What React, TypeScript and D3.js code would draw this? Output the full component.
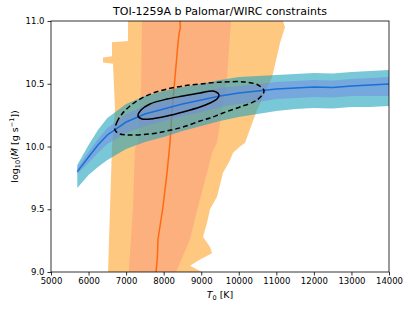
import React, { useEffect, useRef } from "react";
import * as d3 from "d3";

// blue model band, sampled on a T0 grid [K] -> log10 Mdot
const bandT = [5700, 6000, 6250, 6500, 7000, 7500, 8000, 8500, 9000, 9500, 10000, 10500, 11000, 11500, 12000, 12500, 13000, 13500, 14000];
const bandMed = [9.8, 9.916, 10.012, 10.092, 10.195, 10.259, 10.299, 10.339, 10.371, 10.402, 10.426, 10.442, 10.458, 10.466, 10.474, 10.47, 10.482, 10.49, 10.498];
const bandInnerHi = [9.829, 9.956, 10.06, 10.148, 10.259, 10.323, 10.363, 10.403, 10.435, 10.466, 10.482, 10.498, 10.514, 10.522, 10.53, 10.526, 10.538, 10.546, 10.554];
const bandInnerLo = [9.781, 9.868, 9.948, 10.02, 10.107, 10.163, 10.203, 10.243, 10.275, 10.314, 10.338, 10.354, 10.378, 10.386, 10.394, 10.39, 10.402, 10.402, 10.402];
const bandOuterHi = [9.853, 10.012, 10.132, 10.227, 10.338, 10.402, 10.442, 10.474, 10.499, 10.53, 10.554, 10.562, 10.57, 10.578, 10.586, 10.582, 10.594, 10.602, 10.61];
const bandOuterLo = [9.67, 9.773, 9.837, 9.893, 9.98, 10.036, 10.076, 10.124, 10.164, 10.203, 10.235, 10.259, 10.283, 10.299, 10.307, 10.303, 10.315, 10.315, 10.323];

// orange constraint, edges given as (log10 Mdot, T0)
const outerLeftL = [11.0, 10.84, 10.83, 10.72, 10.71, 10.67, 10.66, 10.3, 10.0, 9.5, 9.0];
const outerLeftT = [7051, 7051, 6624, 6624, 6385, 6385, 6651, 6704, 6624, 6571, 6518];
const outerRightL = [11.0, 10.95, 10.825, 10.55, 10.29, 10.03, 10.0, 9.95, 9.89, 9.79, 9.6, 9.5, 9.39, 9.28, 9.2, 9.15, 9.1, 9.05, 9.0];
const outerRightT = [11178, 11230, 11098, 10885, 10486, 10166, 10033, 9847, 9767, 9580, 9420, 9234, 9154, 9048, 9234, 9287, 8968, 8702, 9021];
const innerLeftL = [11.0, 10.5, 10.03, 9.99, 9.5, 9.0];
const innerLeftT = [7423, 7400, 7317, 7237, 7180, 7070];
const innerRightL = [11.0, 10.55, 10.03, 9.95, 9.79, 9.52, 9.26, 9.0];
const innerRightT = [9793, 9687, 9420, 9287, 9154, 8915, 8702, 8329];
const medL = [11.0, 10.95, 10.9, 10.825, 10.55, 10.29, 10.03, 9.79, 9.52, 9.26, 9.1, 9.0];
const medT = [8435, 8445, 8410, 8382, 8302, 8222, 8169, 8089, 7982, 7849, 7830, 7796];

// joint contours (T0, log10 Mdot)
const contourOuter = [
  [6704, 10.131], [6758, 10.195], [6891, 10.259], [7104, 10.323], [7370, 10.378], [7716, 10.426],
  [8089, 10.458], [8515, 10.482], [8968, 10.498], [9578, 10.514], [10166, 10.514], [10512, 10.49],
  [10672, 10.442], [10486, 10.371], [10033, 10.315], [9578, 10.267], [9234, 10.227], [8968, 10.203],
  [8515, 10.155], [8089, 10.124], [7636, 10.1], [7104, 10.092], [6837, 10.1],
];
const contourInner = [
  [7317, 10.243], [7397, 10.291], [7636, 10.339], [8089, 10.378], [8515, 10.402], [8968, 10.426],
  [9314, 10.442], [9474, 10.41], [9420, 10.378], [9234, 10.347], [8968, 10.315], [8515, 10.275],
  [8089, 10.243], [7636, 10.219], [7423, 10.219],
];

const xTicks = [5000, 6000, 7000, 8000, 9000, 10000, 11000, 12000, 13000, 14000];
const yTicks = [9.0, 9.5, 10.0, 10.5, 11.0];

const FONT = "DejaVu Sans";

const App = () => {
  const ref = useRef<SVGSVGElement>(null);

  useEffect(() => {
    const svg = d3.select(ref.current);
    svg.selectAll("*").remove();

    const x = d3.scaleLinear().domain([5000, 14000]).range([51, 389]);
    const y = d3.scaleLinear().domain([9, 11]).range([272, 21]);

    svg.append("clipPath").attr("id", "plotArea")
      .append("rect").attr("x", 51).attr("y", 21).attr("width", 338).attr("height", 251);
    const g = svg.append("g").attr("clip-path", "url(#plotArea)");

    const poly = (lL, lT, rL, rT) => {
      const pts = lL.map((l, i) => [x(lT[i]), y(l)])
        .concat(rL.map((l, i) => [x(rT[i]), y(l)]).reverse());
      return d3.line()(pts) + "Z";
    };

    g.append("path").attr("d", poly(outerLeftL, outerLeftT, outerRightL, outerRightT)).attr("fill", "#ffc880");
    g.append("path").attr("d", poly(innerLeftL, innerLeftT, innerRightL, innerRightT)).attr("fill", "#fcb07d");
    g.append("path")
      .attr("d", d3.line()(medL.map((l, i) => [x(medT[i]), y(l)])))
      .attr("fill", "none").attr("stroke", "#ff6a10").attr("stroke-width", 1.5);

    const idx = d3.range(bandT.length);
    const area = (lo, hi) => d3.area().x((i) => x(bandT[i])).y0((i) => y(lo[i])).y1((i) => y(hi[i]))(idx);
    g.append("path").attr("d", area(bandOuterLo, bandOuterHi)).attr("fill", "#1fa3bc").attr("fill-opacity", 0.6);
    g.append("path").attr("d", area(bandInnerLo, bandInnerHi)).attr("fill", "#7388e5").attr("fill-opacity", 0.5);
    g.append("path")
      .attr("d", d3.line().x((i) => x(bandT[i])).y((i) => y(bandMed[i]))(idx))
      .attr("fill", "none").attr("stroke", "#1a6fd8").attr("stroke-width", 1.5);

    const closed = d3.line().x((d) => x(d[0])).y((d) => y(d[1])).curve(d3.curveCatmullRomClosed.alpha(0.5));
    g.append("path").attr("d", closed(contourOuter)).attr("fill", "none")
      .attr("stroke", "black").attr("stroke-width", 1.5).attr("stroke-dasharray", "5,3");
    g.append("path").attr("d", closed(contourInner)).attr("fill", "none")
      .attr("stroke", "black").attr("stroke-width", 1.5);

    // frame
    svg.append("rect").attr("x", 51).attr("y", 21).attr("width", 338).attr("height", 251)
      .attr("fill", "none").attr("stroke", "black").attr("stroke-width", 0.8);

    const xa = svg.append("g").attr("transform", "translate(0,272)")
      .call(d3.axisBottom(x).tickValues(xTicks).tickSize(3.5).tickPadding(2).tickFormat(d3.format("d")));
    const ya = svg.append("g").attr("transform", "translate(51,0)")
      .call(d3.axisLeft(y).tickValues(yTicks).tickSize(3.5).tickPadding(3).tickFormat(d3.format(".1f")));
    [xa, ya].forEach((a) => {
      a.select(".domain").remove();
      a.selectAll("line").attr("stroke", "black").attr("stroke-width", 0.8);
      a.selectAll("text").attr("font-family", FONT).attr("font-size", 8.5).attr("fill", "black");
    });

    svg.append("text").attr("x", 220).attr("y", 15).attr("text-anchor", "middle")
      .attr("font-family", FONT).attr("font-size", 11).text("TOI-1259A b Palomar/WIRC constraints");

    const xl = svg.append("text").attr("x", 220).attr("y", 298).attr("text-anchor", "middle")
      .attr("font-family", FONT).attr("font-size", 9.5);
    xl.append("tspan").attr("font-style", "italic").text("T");
    xl.append("tspan").attr("font-size", 6.5).attr("dy", 2).text("0");
    xl.append("tspan").attr("dy", -2).text(" [K]");

    const yl = svg.append("text").attr("transform", "translate(18,146.5) rotate(-90)")
      .attr("text-anchor", "middle").attr("font-family", FONT).attr("font-size", 9.5);
    yl.append("tspan").text("log");
    yl.append("tspan").attr("font-size", 6.5).attr("dy", 2).text("10");
    yl.append("tspan").attr("dy", -2).text("(");
    yl.append("tspan").attr("font-style", "italic").text("Ṁ");
    yl.append("tspan").text(" [g s");
    yl.append("tspan").attr("font-size", 6.5).attr("dy", -4).text("−1");
    yl.append("tspan").attr("dy", 4).text("])");
  }, []);

  return (
    <svg ref={ref} width={411} height={309}
      style={{ position: "absolute", left: 0, top: 0, background: "white" }} />
  );
};

export default App;
